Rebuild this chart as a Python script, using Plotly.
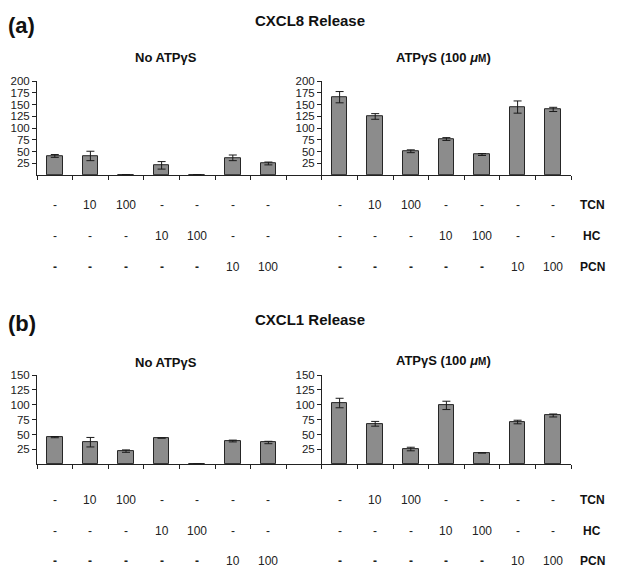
import plotly.graph_objects as go

W, H = 629, 575

# ---- data ----
left_x = [0, 1, 2, 3, 4, 5, 6]
right_x = [8, 9, 10, 11, 12, 13, 14]

cxcl8_no = [41, 41, 1, 21, 1, 37, 25]
cxcl8_no_err = [3, 10, 0.5, 8, 0.5, 6, 3]
cxcl8_atp = [166, 125, 51, 77, 44, 145, 140]
cxcl8_atp_err = [12, 6, 3, 3, 2, 13, 4.5]

cxcl1_no = [45.5, 37, 22, 44, 0, 39, 36.5]
cxcl1_no_err = [1, 8, 2, 0, 0, 1.5, 2]
cxcl1_atp = [103, 68, 25.5, 99, 19, 71, 82]
cxcl1_atp_err = [8, 4, 3, 7, 0, 3, 2.5]

tcn = ['-', '10', '100', '-', '-', '-', '-']
hc = ['-', '-', '-', '10', '100', '-', '-']
pcn = ['-', '-', '-', '-', '-', '10', '100']
row_names = ['TCN', 'HC', 'PCN']

ticks_a = [25, 50, 75, 100, 125, 150, 175, 200]
ticks_b = [25, 50, 75, 100, 125, 150]

FONT = "Liberation Sans, Arial, sans-serif"
BAR = '#8c8c8c'
EDGE = '#262626'

X0, X1 = 37, 571          # pixel extent of the shared x axis
XMIN, XMAX = -0.5, 14.5   # category range


def px(x):
    return x / W


def py(y):
    return 1 - y / H


def cat_paper(c):
    return px(X0 + (c - XMIN) / (XMAX - XMIN) * (X1 - X0))


fig = go.Figure()


def add_bars(xs, ys, errs, xa, ya):
    fig.add_trace(go.Bar(
        x=xs, y=ys, xaxis=xa, yaxis=ya, width=0.44,
        marker=dict(color=BAR, line=dict(color=EDGE, width=1)),
        error_y=dict(type='data', array=errs, color='#1a1a1a', thickness=1, width=4),
        showlegend=False, hoverinfo='skip'))


add_bars(left_x, cxcl8_no, cxcl8_no_err, 'x', 'y')
add_bars(right_x, cxcl8_atp, cxcl8_atp_err, 'x', 'y2')
add_bars(left_x, cxcl1_no, cxcl1_no_err, 'x2', 'y3')
add_bars(right_x, cxcl1_atp, cxcl1_atp_err, 'x2', 'y4')

xdom = [px(X0), px(X1)]
bound = [i - 0.5 for i in range(16)]
xcommon = dict(domain=xdom, range=[XMIN, XMAX], showline=True, linecolor='#222', linewidth=1,
               ticks='outside', ticklen=4, tickcolor='#222', tickmode='array',
               tickvals=bound, ticktext=[''] * 16, showgrid=False, zeroline=False,
               fixedrange=True)

ycommon = dict(showline=True, linecolor='#222', linewidth=1, ticks='outside', ticklen=4,
               tickcolor='#222', tickmode='array', showgrid=False, zeroline=False,
               tickfont=dict(family=FONT, size=11.5, color='#1a1a1a'), fixedrange=True)

dom_a = [py(171), py(76)]
dom_b = [py(463), py(373)]
right_pos = px(321)

fig.update_layout(
    width=W, height=H, margin=dict(l=0, r=0, t=0, b=0),
    paper_bgcolor='white', plot_bgcolor='rgba(0,0,0,0)',
    bargap=0,
    font=dict(family=FONT, color='#1a1a1a'),
    xaxis=dict(anchor='y', **xcommon),
    xaxis2=dict(anchor='y3', **xcommon),
    yaxis=dict(domain=dom_a, range=[0, 200], anchor='x', tickvals=ticks_a,
               ticktext=[str(t) for t in ticks_a], **ycommon),
    yaxis2=dict(domain=dom_a, range=[0, 200], overlaying='y', anchor='free', position=right_pos,
                side='left', tickvals=ticks_a, ticktext=[str(t) for t in ticks_a], **ycommon),
    yaxis3=dict(domain=dom_b, range=[0, 150], anchor='x2', tickvals=ticks_b,
                ticktext=[str(t) for t in ticks_b], **ycommon),
    yaxis4=dict(domain=dom_b, range=[0, 150], overlaying='y3', anchor='free', position=right_pos,
                side='left', tickvals=ticks_b, ticktext=[str(t) for t in ticks_b], **ycommon),
)

ann = []


def text(x, y, s, size, xanchor='center', color='#111'):
    ann.append(dict(x=x, y=y, xref='paper', yref='paper', text=s, showarrow=False,
                    xanchor=xanchor, yanchor='middle',
                    font=dict(family=FONT, size=size, color=color)))


# panel letters and titles
text(px(6), py(20), '<b>(a)</b>', 22, xanchor='left')
text(px(310), py(15), '<b>CXCL8 Release</b>', 15)
text(px(6), py(321), '<b>(b)</b>', 22, xanchor='left')
text(px(310), py(317), '<b>CXCL1 Release</b>', 15)

sub_left = '<b>No ATPγS</b>'
sub_right = '<b>ATPγS (100 <i>μ</i><span style="font-size:10px">M</span>)</b>'
text(px(166), py(52), sub_left, 13)
text(px(443), py(52), sub_right, 13)
text(px(166), py(360), sub_left, 13)
text(px(443), py(358), sub_right, 13)


# condition rows
def rows(ys):
    for vals, name, yy in zip([tcn, hc, pcn], row_names, ys):
        for xs in (left_x, right_x):
            for xv, v in zip(xs, vals):
                s = v
                if name == 'PCN' and v == '-':
                    s = '<b>-</b>'
                text(cat_paper(xv), py(yy), s, 12, color='#222')
        text(px(592), py(yy), '<b>%s</b>' % name, 12)


rows([201, 232, 264])
rows([499, 531, 561])

fig.update_layout(annotations=ann)
fig.write_html("out.html", config={'displayModeBar': False},
               post_script="document.body.style.margin='0';document.body.style.overflow='hidden';")
